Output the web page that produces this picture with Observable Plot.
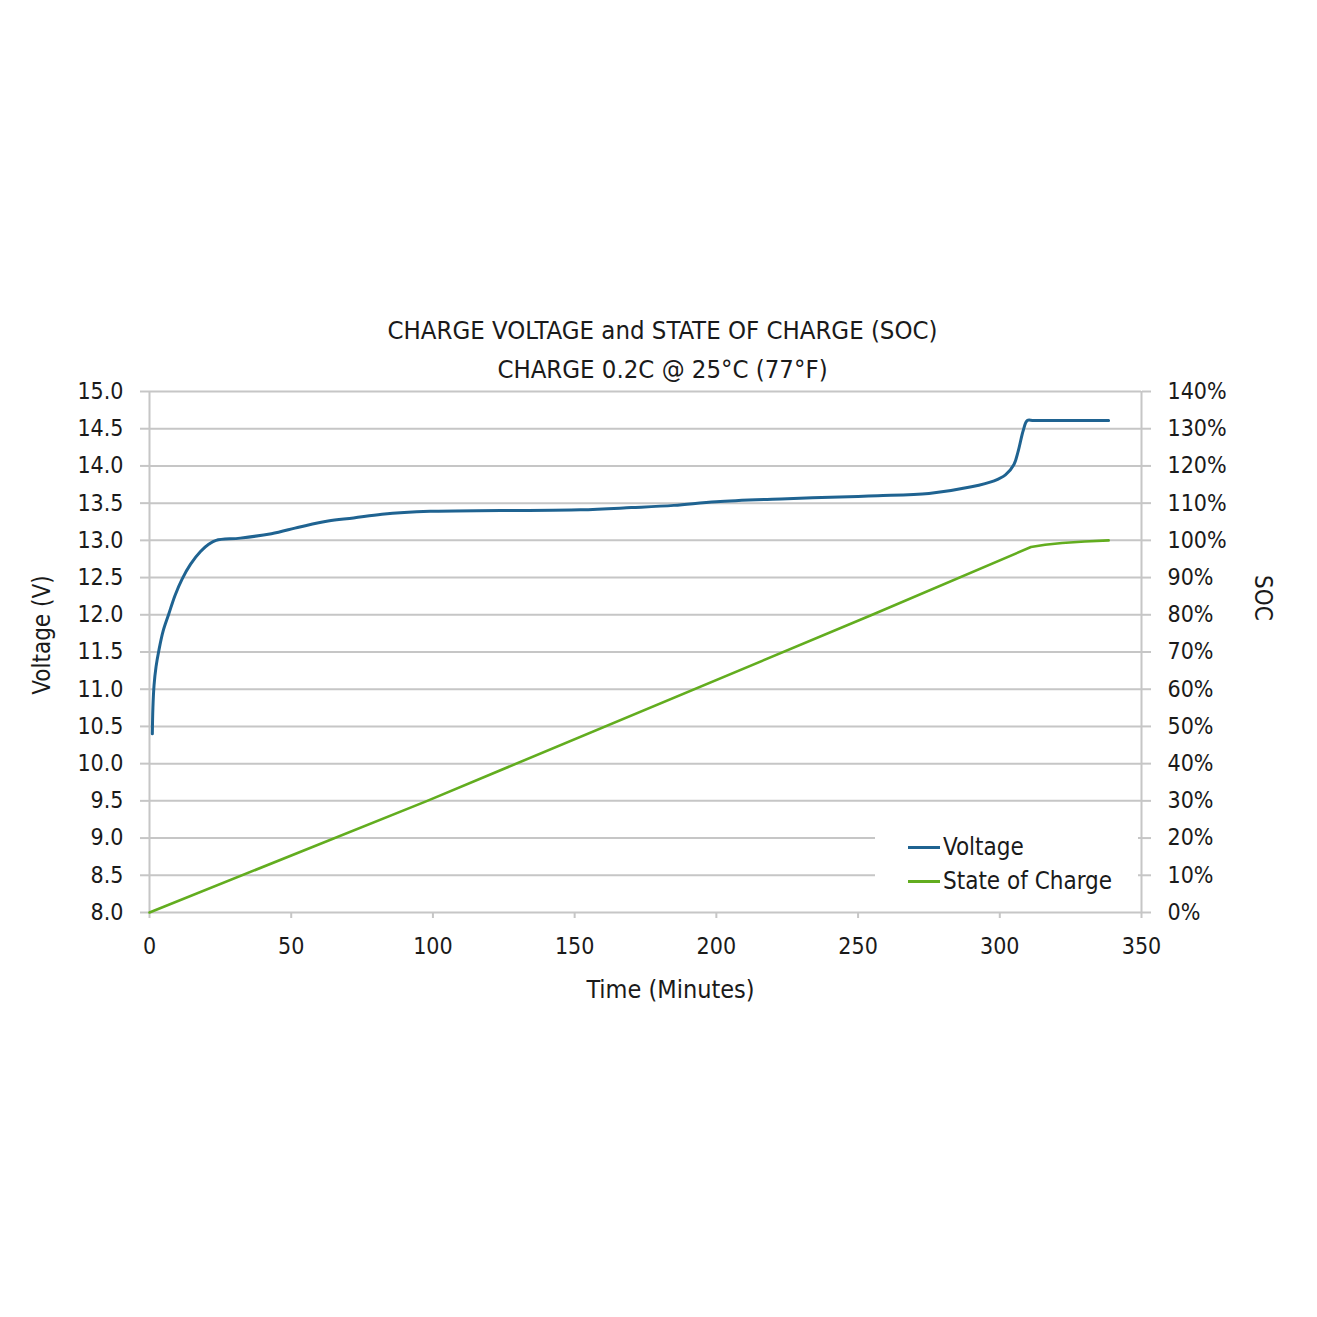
<!DOCTYPE html>
<html>
<head>
<meta charset="utf-8">
<script src="https://cdn.jsdelivr.net/npm/d3@7"></script>
<script src="https://cdn.jsdelivr.net/npm/@observablehq/plot@0.6"></script>
<style>
  html, body { margin: 0; padding: 0; background: #fff; }
  #wrap { position: relative; width: 1317px; height: 1317px; overflow: hidden;
          font-family: "Liberation Sans Narrow", "DejaVu Sans Condensed", "Noto Sans", sans-serif; color: #1a1a1a; }
  #title { height: 386px; box-sizing: border-box; padding-top: 311px; text-align: center;
           font-size: 25.5px; line-height: 39px; padding-left: 8px; }
  #legend { position: absolute; left: 875px; top: 815px; width: 263px; height: 92px; background: #fff; }
  .entry { position: absolute; left: 33px; height: 30px; display: flex; align-items: center; font-size: 24px; }
  .sw { width: 32px; height: 3px; margin-right: 3px; }
</style>
</head>
<body>
<div id="wrap">
  <div id="title">CHARGE VOLTAGE and STATE OF CHARGE (SOC)<br>CHARGE 0.2C @ 25°C (77°F)</div>
  <div id="chart"></div>
  <div id="legend">
    <div class="entry" style="top:17px"><div class="sw" style="background:#1f6391"></div>Voltage</div>
    <div class="entry" style="top:51px"><div class="sw" style="background:#62ad1f"></div>State of Charge</div>
  </div>
</div>
<script>
// Voltage curve (time in minutes, volts)
const voltTime = [1, 1.2, 1.6, 2.3, 3.3, 4.8, 6.8, 9, 11.5, 14.5, 18, 21, 23.5, 32, 43, 53, 63, 72, 82, 99, 124, 152, 170, 185, 200, 225, 250, 257, 275, 290, 298, 302, 305, 306.5, 308.3, 309.7, 312, 338.4];
const voltValue = [10.4, 10.75, 11.05, 11.3, 11.52, 11.78, 12.01, 12.26, 12.48, 12.68, 12.85, 12.95, 13.0, 13.03, 13.09, 13.18, 13.26, 13.3, 13.35, 13.39, 13.40, 13.41, 13.44, 13.47, 13.52, 13.56, 13.59, 13.6, 13.63, 13.72, 13.8, 13.88, 14.02, 14.2, 14.48, 14.61, 14.61, 14.61];
// State of charge (time in minutes, percent)
const socTime = [0, 98, 255, 311, 316, 322, 330, 338.4];
const socValue = [0, 30, 80, 98.2, 98.8, 99.3, 99.7, 100];
// Axis ticks
const xTicks = [0, 50, 100, 150, 200, 250, 300, 350];
const yTicks = [8, 8.5, 9, 9.5, 10, 10.5, 11, 11.5, 12, 12.5, 13, 13.5, 14, 14.5, 15];

const volt = voltTime.map((t, i) => ({t, v: voltValue[i]}));
const soc = socTime.map((t, i) => ({t, s: socValue[i]}));
const socToV = s => 8 + s / 20; // 0..140% maps onto 8..15 V

const grid = "#c6c6c6";
const chart = Plot.plot({
  width: 1317,
  height: 931,
  marginLeft: 149,
  marginRight: 176,
  marginTop: 5,
  marginBottom: 405,
  style: {overflow: "visible", fontFamily: "'Liberation Sans Narrow', 'DejaVu Sans Condensed', sans-serif", fontSize: "23px", color: "#1a1a1a", background: "transparent"},
  x: {domain: [0, 350]},
  y: {domain: [8, 15]},
  marks: [
    Plot.gridY(yTicks, {stroke: grid, strokeOpacity: 1, strokeWidth: 2}),
    Plot.axisY(yTicks, {anchor: "left", tickSize: 9, tickPadding: 17, stroke: grid, strokeWidth: 2, tickFormat: d => d.toFixed(1), label: null, fontSize: 23}),
    Plot.axisY(yTicks, {anchor: "right", tickSize: 9, tickPadding: 17, stroke: grid, strokeWidth: 2, tickFormat: d => Math.round((d - 8) * 20) + "%", label: null, fontSize: 23}),
    Plot.axisX(xTicks, {anchor: "bottom", tickSize: 6, tickPadding: 19, stroke: grid, strokeWidth: 2, label: null, fontSize: 23}),
    Plot.ruleX([0, 350], {stroke: grid, strokeWidth: 2}),
    Plot.line(soc, {x: "t", y: d => socToV(d.s), stroke: "#62ad1f", strokeWidth: 2.6}),
    Plot.line(volt, {x: "t", y: "v", stroke: "#1f6391", strokeWidth: 3, curve: "catmull-rom"}),
    Plot.text(["Voltage (V)"], {frameAnchor: "left", textAnchor: "middle", rotate: -90, dx: -107, dy: -17, fontSize: 24, fill: "#1a1a1a"}),
    Plot.text(["SOC"], {frameAnchor: "right", textAnchor: "middle", rotate: 90, dx: 121, dy: -54, fontSize: 24, fill: "#1a1a1a"}),
    Plot.text(["Time (Minutes)"], {frameAnchor: "bottom", dx: 25, dy: 85, fontSize: 25, fill: "#1a1a1a"})
  ]
});
document.getElementById("chart").appendChild(chart);
</script>
</body>
</html>
